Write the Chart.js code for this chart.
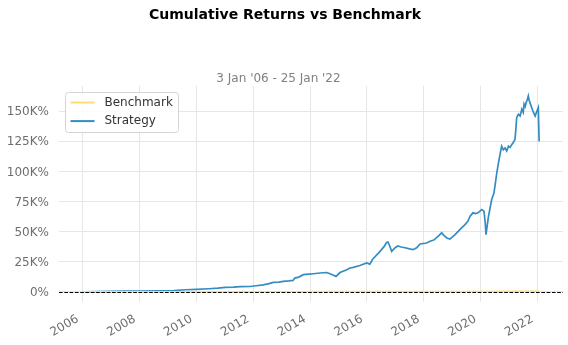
<!DOCTYPE html>
<html>
<head>
<meta charset="utf-8">
<script src="https://cdn.jsdelivr.net/npm/chart.js@4.4.1/dist/chart.umd.min.js"></script>
<style>
  html, body { margin: 0; padding: 0; background: #ffffff; }
  #wrap { width: 568px; height: 345px; position: relative; }
</style>
</head>
<body>
<div id="wrap"><canvas id="c" width="568" height="345"></canvas></div>
<script>
// Headings
const chartTitle = 'Cumulative Returns vs Benchmark';
const chartSubtitle = "3 Jan '06 - 25 Jan '22";

// Axis ticks: calendar years on x, cumulative return in thousands of percent on y
const yearTicks = [2006, 2008, 2010, 2012, 2014, 2016, 2018, 2020, 2022];
const valueTicks = [0, 25, 50, 75, 100, 125, 150];

// Series names
const benchmarkName = 'Benchmark';
const strategyName = 'Strategy';

// Strategy cumulative return (K%) by fractional year
const strategyYears = [
  2006.00, 2006.50, 2007.00, 2007.50, 2008.00, 2008.68, 2009.20, 2009.62, 2010.00, 2010.44,
  2010.75, 2011.02, 2011.30, 2011.55, 2011.88, 2012.10, 2012.35, 2012.55, 2012.70, 2012.90,
  2013.05, 2013.25, 2013.40, 2013.46, 2013.60, 2013.76, 2013.95, 2014.11, 2014.35, 2014.58,
  2014.70, 2014.80, 2014.91, 2015.05, 2015.29, 2015.40, 2015.52, 2015.75, 2015.99, 2016.10,
  2016.20, 2016.46, 2016.60, 2016.69, 2016.74, 2016.80, 2016.87, 2016.99, 2017.09, 2017.20,
  2017.34, 2017.50, 2017.62, 2017.75, 2017.87, 2018.10, 2018.22, 2018.35, 2018.50, 2018.63,
  2018.68, 2018.81, 2018.92, 2019.10, 2019.27, 2019.45, 2019.55, 2019.63, 2019.73, 2019.82,
  2019.91, 2020.04, 2020.12, 2020.16, 2020.19, 2020.27, 2020.39, 2020.47, 2020.57, 2020.65,
  2020.70, 2020.74, 2020.80, 2020.86, 2020.92, 2020.98, 2021.04, 2021.10, 2021.15, 2021.21,
  2021.24, 2021.27, 2021.33, 2021.39, 2021.45, 2021.50, 2021.53, 2021.57, 2021.60, 2021.64,
  2021.68, 2021.71, 2021.74, 2021.80, 2021.86, 2021.92, 2021.98, 2022.03, 2022.06
];
const strategyValues = [
  0.0, 0.2, 0.3, 0.5, 0.6, 0.8, 1.0, 1.7, 2.0, 2.5,
  3.0, 3.6, 3.8, 4.2, 4.4, 5.0, 5.8, 6.8, 7.8, 8.0,
  8.6, 9.0, 9.4, 11.4, 12.2, 14.2, 14.6, 15.0, 15.6, 16.0,
  15.0, 14.0, 12.8, 16.0, 18.3, 19.8, 20.3, 21.8, 24.0, 23.0,
  27.0, 33.6, 37.5, 41.0, 41.4, 38.0, 33.6, 36.6, 38.0, 37.2,
  36.6, 35.6, 35.0, 36.6, 39.7, 40.5, 42.0, 43.0, 46.0, 49.0,
  47.5, 44.7, 43.8, 47.5, 51.7, 55.8, 58.5, 62.8, 65.6, 65.0,
  65.6, 68.3, 67.0, 58.0, 47.5, 61.7, 76.7, 82.0, 98.9, 110.0,
  116.0, 121.0, 118.0, 119.5, 117.0, 121.0, 120.0, 122.5, 124.0, 126.7,
  135.0, 144.7, 147.5, 146.0, 151.7, 149.0, 156.0, 154.0, 157.0, 159.5,
  162.8, 159.0, 157.0, 153.0, 149.0, 146.0, 150.0, 153.0, 125.0
];

// Benchmark cumulative return (K%): stays close to zero at this scale
const benchmarkYears = [2006.00, 2008.00, 2009.20, 2011.00, 2013.00, 2015.00, 2017.00, 2018.90, 2020.20, 2021.00, 2022.06];
const benchmarkValues = [0.0, 0.05, -0.04, 0.06, 0.12, 0.18, 0.24, 0.28, 0.25, 0.38, 0.44];

const toPoints = (xs, ys) => xs.map((x, i) => ({ x: x, y: ys[i] }));

const FONT = "'DejaVu Sans', sans-serif";
const GRID = '#e6e6e6';
const TICK_COLOR = '#6e6e6e';

// Headings, zero reference line and legend box
const decorations = {
  id: 'decorations',
  afterDatasetsDraw(chart) {
    const { ctx, chartArea, scales } = chart;
    // dashed zero line
    const y0 = scales.y.getPixelForValue(0);
    ctx.save();
    ctx.strokeStyle = '#000000';
    ctx.lineWidth = 1;
    ctx.setLineDash([3.7, 1.6]);
    ctx.beginPath();
    ctx.moveTo(chartArea.left, Math.round(y0) + 0.5);
    ctx.lineTo(chartArea.right, Math.round(y0) + 0.5);
    ctx.stroke();
    ctx.restore();

    // legend
    ctx.save();
    ctx.font = '12px ' + FONT;
    const items = chart.data.datasets;
    let tw = 0;
    items.forEach(d => { tw = Math.max(tw, ctx.measureText(d.label).width); });
    const bx = chartArea.left + 6.5, by = chartArea.top + 6.5;
    const bw = Math.round(5 + 24 + 10 + tw + 6), bh = 40;
    ctx.fillStyle = 'rgba(255,255,255,0.85)';
    ctx.strokeStyle = '#d4d4d4';
    ctx.lineWidth = 1;
    ctx.beginPath();
    ctx.roundRect(bx, by, bw, bh, 3);
    ctx.fill();
    ctx.stroke();
    items.forEach((d, i) => {
      const ry = by + 10 + i * 18.6;
      ctx.strokeStyle = d.legendColor;
      ctx.lineWidth = 2;
      ctx.beginPath();
      ctx.moveTo(bx + 5, ry);
      ctx.lineTo(bx + 29, ry);
      ctx.stroke();
      ctx.fillStyle = '#333333';
      ctx.textBaseline = 'middle';
      ctx.textAlign = 'left';
      ctx.fillText(d.label, bx + 39, ry);
    });
    ctx.restore();
  },
  afterDraw(chart) {
    const { ctx } = chart;
    ctx.save();
    ctx.textAlign = 'center';
    ctx.textBaseline = 'alphabetic';
    ctx.fillStyle = '#000000';
    ctx.font = 'bold 14px ' + FONT;
    ctx.fillText(chartTitle, 285, 19);
    ctx.fillStyle = '#808080';
    ctx.font = '12px ' + FONT;
    ctx.fillText(chartSubtitle, 278.5, 82);
    ctx.restore();
  }
};

new Chart(document.getElementById('c'), {
  type: 'line',
  data: {
    datasets: [
      {
        label: benchmarkName,
        data: toPoints(benchmarkYears, benchmarkValues),
        borderColor: '#fedd78',
        legendColor: '#fedd78',
        borderWidth: 1.5,
        pointRadius: 0,
        tension: 0
      },
      {
        label: strategyName,
        data: toPoints(strategyYears, strategyValues),
        borderColor: '#348dc1',
        legendColor: '#348dc1',
        borderWidth: 1.7,
        pointRadius: 0,
        tension: 0
      }
    ]
  },
  options: {
    responsive: false,
    animation: false,
    devicePixelRatio: 1,
    layout: { padding: { top: 86, right: 5, left: 0, bottom: 0 } },
    plugins: {
      legend: { display: false },
      title: { display: false },
      tooltip: { enabled: false }
    },
    scales: {
      x: {
        type: 'linear',
        min: 2005.16,
        max: 2022.9,
        border: { display: false },
        grid: { color: GRID, lineWidth: 1, drawTicks: false },
        afterBuildTicks: s => { s.ticks = yearTicks.map(v => ({ value: v })); },
        afterFit: s => { s.height = 43; },
        ticks: {
          autoSkip: false,
          minRotation: 30,
          maxRotation: 30,
          padding: 10,
          labelOffset: -5,
          color: TICK_COLOR,
          font: { family: FONT, size: 12 },
          callback: v => String(v)
        }
      },
      y: {
        type: 'linear',
        min: -8.5,
        max: 171,
        border: { display: false },
        grid: { color: GRID, lineWidth: 1, drawTicks: false },
        afterBuildTicks: s => { s.ticks = valueTicks.map(v => ({ value: v })); },
        afterFit: s => { s.width = 59; },
        ticks: {
          padding: 10,
          labelOffset: 1,
          color: TICK_COLOR,
          font: { family: FONT, size: 12 },
          callback: v => (v === 0 ? '0%' : v + 'K%')
        }
      }
    }
  },
  plugins: [decorations]
});
</script>
</body>
</html>
